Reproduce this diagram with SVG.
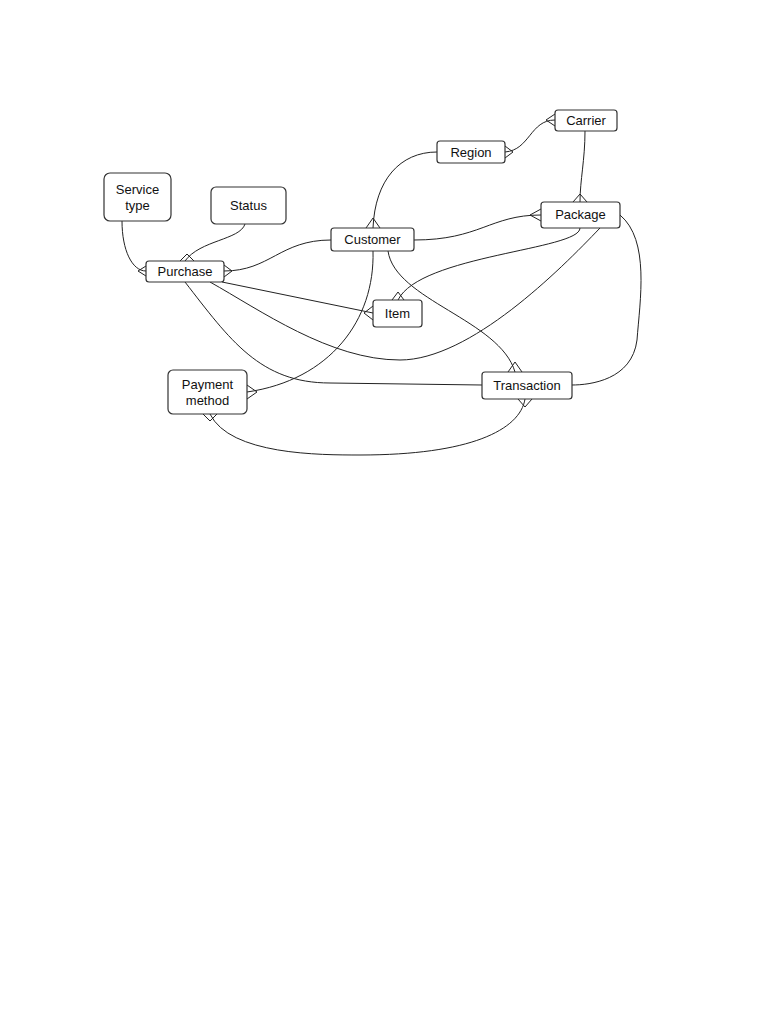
<svg xmlns="http://www.w3.org/2000/svg" width="768" height="1024" viewBox="0 0 768 1024">
<style>
.n rect{fill:#fff;stroke:#333;stroke-width:1.2}
.n text{font-family:"Liberation Sans",Arial,sans-serif;font-size:13px;fill:#111;text-anchor:middle}
#edges path{fill:none;stroke:#222;stroke-width:1}
</style>
<rect width="768" height="1024" fill="#fff"/>
<g id="edges">
<path d="M122,221 C122,250 132,271 146,271"/><path d="M146,266 L138,271 L146,276"/>
<path d="M245,224 C240,240 200,240 185,261"/><path d="M239,224 L245,217 L251,224"/><path d="M180,261 L187,254 L194,261"/>
<path d="M331,240 C280,240 270,271 224,271"/><path d="M224,265 L232,271 L224,277"/>
<path d="M373,228 C375,180 400,152 437,152"/><path d="M366,228 L373,218 L380,228"/>
<path d="M505,152 C530,150 530,120 555,120"/><path d="M505,146 L513,152 L505,158"/><path d="M555,114 L546,120 L555,126"/>
<path d="M585,131 C585,160 580,180 580,202"/><path d="M573,202 L580,194 L587,202"/>
<path d="M414,240 C480,240 490,215 541,215"/><path d="M541,209 L530,215 L541,221"/>
<path d="M580,228 C580,250 420,255 398,300"/><path d="M392,300 L398,292 L404,300"/>
<path d="M222,282 L373,313"/><path d="M373,306 L364,313 L373,320"/>
<path d="M210,282 C260,310 330,360 400,360 C470,360 560,270 600,228"/>
<path d="M185,282 C230,340 260,383 330,383 L482,385"/>
<path d="M373,251 C375,320 330,380 247,392"/><path d="M247,385 L257,392 L247,399"/>
<path d="M388,251 C395,300 500,320 515,372"/><path d="M508,372 L515,362 L522,372"/>
<path d="M620,215 C650,240 640,300 637,340 C632,380 590,385 572,385"/>
<path d="M210,414 C230,455 320,455 360,455 C470,455 520,430 525,399"/><path d="M203,414 L210,421 L217,414"/><path d="M518,399 L525,407 L532,399"/>
</g>
<g id="service" class="n"><rect x="104" y="173" width="67" height="48" rx="6"/><text x="137.5" y="194">Service</text><text x="137.5" y="210">type</text></g>
<g id="status" class="n"><rect x="211" y="187" width="75" height="37" rx="5"/><text x="248.5" y="210">Status</text></g>
<g id="purchase" class="n"><rect x="146" y="261" width="78" height="21" rx="3"/><text x="185" y="276">Purchase</text></g>
<g id="customer" class="n"><rect x="331" y="228" width="83" height="23" rx="3"/><text x="372.5" y="244">Customer</text></g>
<g id="region" class="n"><rect x="437" y="141" width="68" height="22" rx="3"/><text x="471" y="157">Region</text></g>
<g id="carrier" class="n"><rect x="555" y="110" width="62" height="21" rx="3"/><text x="586" y="125">Carrier</text></g>
<g id="package" class="n"><rect x="541" y="202" width="79" height="26" rx="3"/><text x="580.5" y="219">Package</text></g>
<g id="item" class="n"><rect x="373" y="300" width="49" height="27" rx="3"/><text x="397.5" y="318">Item</text></g>
<g id="payment" class="n"><rect x="168" y="370" width="79" height="44" rx="5"/><text x="207.5" y="389">Payment</text><text x="207.5" y="405">method</text></g>
<g id="transaction" class="n"><rect x="482" y="372" width="90" height="27" rx="3"/><text x="527" y="390">Transaction</text></g>
</svg>
